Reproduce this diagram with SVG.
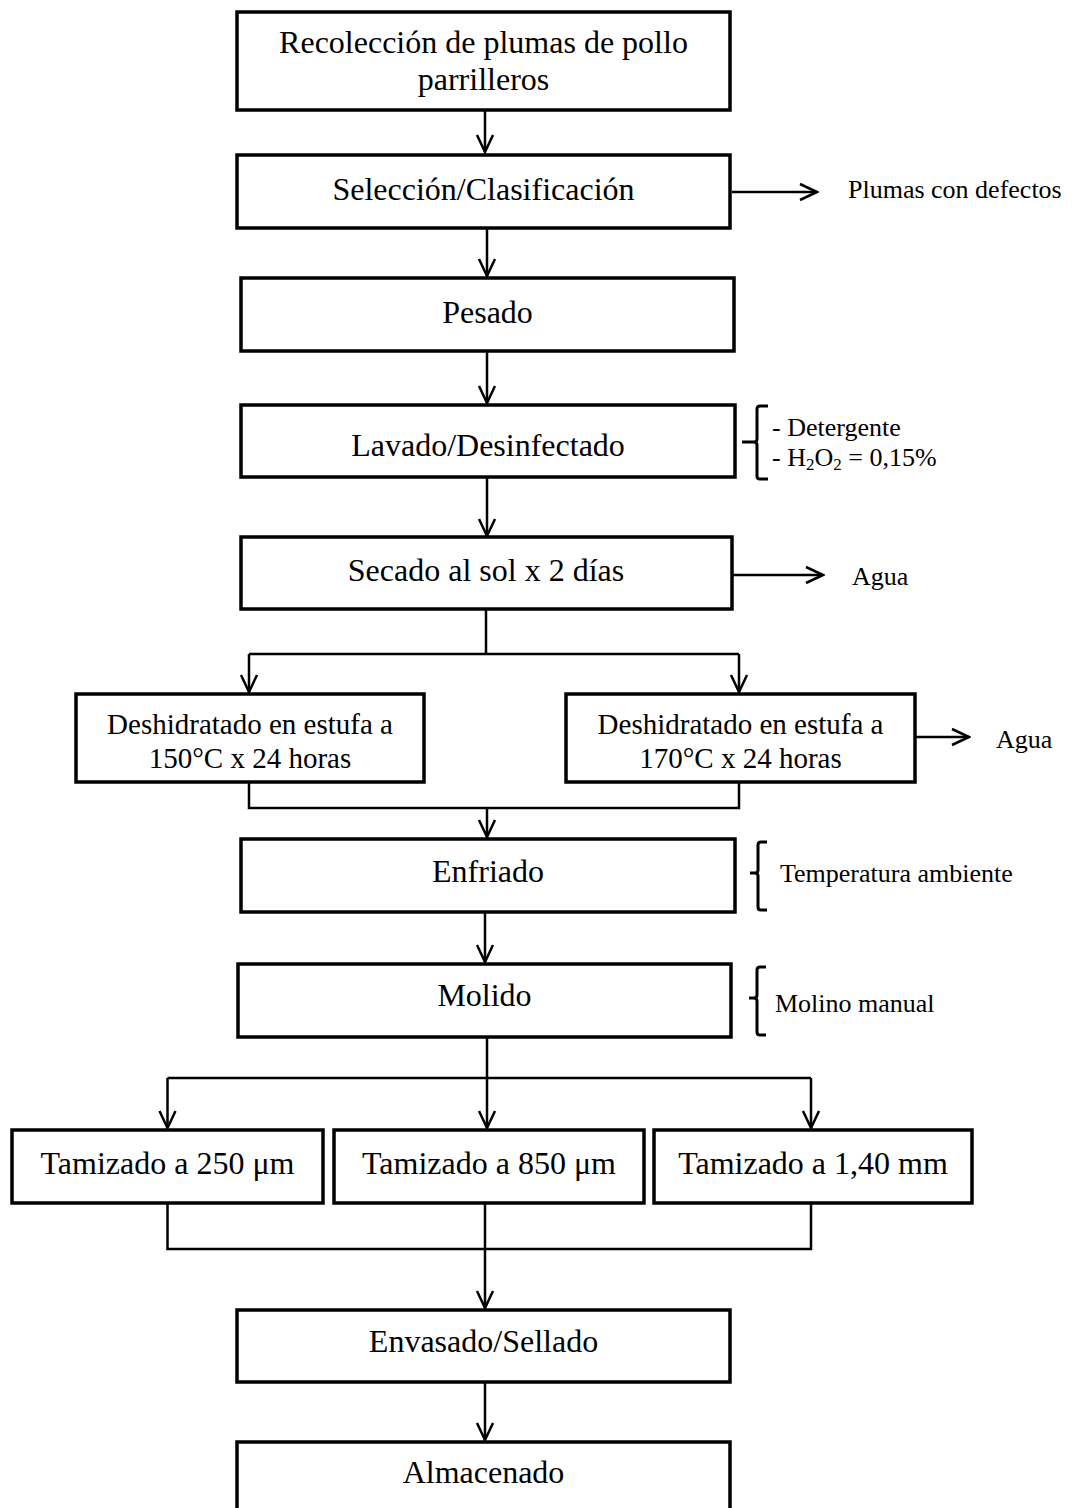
<svg xmlns="http://www.w3.org/2000/svg" width="1072" height="1508" viewBox="0 0 1072 1508">
<defs>
<style>
.box{fill:#fff;stroke:#000;stroke-width:3.5}
.t{font-family:"Liberation Serif","Times New Roman",serif;font-size:32px;fill:#000;text-anchor:middle}
.t2{font-family:"Liberation Serif","Times New Roman",serif;font-size:29px;fill:#000;text-anchor:middle}
.s{font-family:"Liberation Serif","Times New Roman",serif;font-size:26px;fill:#000}
.ln{fill:none;stroke:#000;stroke-width:2.5}
.ar{fill:none;stroke:#000;stroke-width:2.5;marker-end:url(#ah)}
.br{fill:none;stroke:#000;stroke-width:3;stroke-linejoin:round}
</style>
<marker id="ah" markerUnits="userSpaceOnUse" viewBox="-20 -10 22 20" refX="0" refY="0" markerWidth="22" markerHeight="20" orient="auto">
<path d="M-17,-8 L0,0 L-17,8" fill="none" stroke="#000" stroke-width="2.5"/>
</marker>
</defs>
<rect width="1072" height="1508" fill="#fff"/>

<g id="connectors">
<line class="ar" x1="485" y1="110" x2="485" y2="152"/>
<line class="ar" x1="487" y1="228" x2="487" y2="276"/>
<line class="ar" x1="487" y1="351" x2="487" y2="403"/>
<line class="ar" x1="487" y1="477" x2="487" y2="536"/>
<line class="ar" x1="732" y1="192" x2="817" y2="192"/>
<line class="ar" x1="731" y1="575" x2="823" y2="575"/>
<polyline class="ln" points="486,610 486,654"/>
<polyline class="ln" points="249,654 739,654"/>
<line class="ar" x1="249" y1="654" x2="249" y2="692"/>
<line class="ar" x1="739" y1="654" x2="739" y2="692"/>
<line class="ar" x1="915" y1="737" x2="969" y2="737"/>
<polyline class="ln" points="249,782 249,808 739,808 739,782"/>
<line class="ar" x1="487" y1="808" x2="487" y2="837"/>
<line class="ar" x1="485" y1="912" x2="485" y2="962"/>
<polyline class="ln" points="487,1037 487,1078"/>
<polyline class="ln" points="167.5,1078 811,1078"/>
<line class="ar" x1="167.5" y1="1078" x2="167.5" y2="1128"/>
<line class="ar" x1="487" y1="1078" x2="487" y2="1128"/>
<line class="ar" x1="811" y1="1078" x2="811" y2="1128"/>
<polyline class="ln" points="167.5,1203 167.5,1249 811,1249 811,1203"/>
<line class="ar" x1="485" y1="1203" x2="485" y2="1308"/>
<line class="ar" x1="485" y1="1382" x2="485" y2="1440"/>
</g>

<g id="n1"><rect class="box" x="237" y="12" width="493" height="98"/>
<text class="t" x="483.5" y="53">Recolección de plumas de pollo</text>
<text class="t" x="483.5" y="90">parrilleros</text></g>

<g id="n2"><rect class="box" x="237" y="155" width="493" height="73"/>
<text class="t" x="483.5" y="200">Selección/Clasificación</text></g>
<g id="n2out"><text class="s" x="848" y="198">Plumas con defectos</text></g>

<g id="n3"><rect class="box" x="241" y="278" width="493" height="73"/>
<text class="t" x="487.5" y="323">Pesado</text></g>

<g id="n4"><rect class="box" x="241" y="405" width="494" height="72"/>
<text class="t" x="488" y="456">Lavado/Desinfectado</text></g>
<g id="n4note">
<path class="br" d="M768,406 L760,406 Q757,406 757,409 L757,439 Q757,442 754,442 L742,442 M754,442 Q757,442 757,445 L757,476 Q757,479 760,479 L768,479"/>
<text class="s" x="772" y="436">- Detergente</text>
<text class="s" x="772" y="466">- H<tspan font-size="17" dy="4">2</tspan><tspan dy="-4">O</tspan><tspan font-size="17" dy="4">2</tspan><tspan dy="-4"> = 0,15%</tspan></text>
</g>

<g id="n5"><rect class="box" x="241" y="537" width="491" height="72"/>
<text class="t" x="486" y="581">Secado al sol x 2 días</text></g>
<g id="n5out"><text class="s" x="852" y="585">Agua</text></g>

<g id="n6a"><rect class="box" x="76" y="694" width="348" height="88"/>
<text class="t2" x="250" y="734">Deshidratado en estufa a</text>
<text class="t2" x="250" y="768">150°C x 24 horas</text></g>

<g id="n6b"><rect class="box" x="566" y="694" width="349" height="88"/>
<text class="t2" x="740.5" y="734">Deshidratado en estufa a</text>
<text class="t2" x="740.5" y="768">170°C x 24 horas</text></g>
<g id="n6out"><text class="s" x="996" y="748">Agua</text></g>

<g id="n7"><rect class="box" x="241" y="839" width="494" height="73"/>
<text class="t" x="488" y="882">Enfriado</text></g>
<g id="n7note">
<path class="br" d="M767,842 L761,842 Q758,842 758,845 L758,870 Q758,873 755,873 L750,873 M755,873 Q758,873 758,876 L758,907 Q758,910 761,910 L767,910"/>
<text class="s" x="780" y="882">Temperatura ambiente</text>
</g>

<g id="n8"><rect class="box" x="238" y="964" width="493" height="73"/>
<text class="t" x="484.5" y="1006">Molido</text></g>
<g id="n8note">
<path class="br" d="M766,967 L760,967 Q757,967 757,970 L757,995 Q757,998 754,998 L749,998 M754,998 Q757,998 757,1001 L757,1032 Q757,1035 760,1035 L766,1035"/>
<text class="s" x="775" y="1012">Molino manual</text>
</g>

<g id="n9a"><rect class="box" x="12" y="1130" width="311" height="73"/>
<text class="t" x="167.5" y="1174">Tamizado a 250 μm</text></g>
<g id="n9b"><rect class="box" x="334" y="1130" width="310" height="73"/>
<text class="t" x="489" y="1174">Tamizado a 850 μm</text></g>
<g id="n9c"><rect class="box" x="654" y="1130" width="318" height="73"/>
<text class="t" x="813" y="1174">Tamizado a 1,40 mm</text></g>

<g id="n10"><rect class="box" x="237" y="1310" width="493" height="72"/>
<text class="t" x="483.5" y="1352">Envasado/Sellado</text></g>

<g id="n11"><rect class="box" x="237" y="1442" width="493" height="90"/>
<text class="t" x="483.5" y="1483">Almacenado</text></g>
</svg>
